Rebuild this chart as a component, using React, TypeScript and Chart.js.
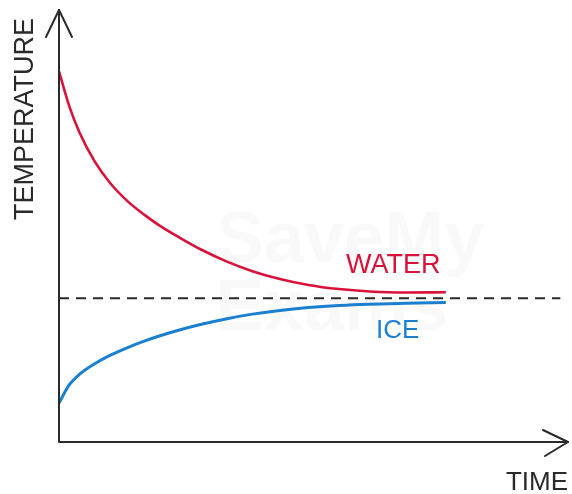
import React, { useEffect, useRef } from "react";
import { Chart, registerables } from "chart.js";

Chart.register(...registerables);

// ---- data ----
const timeValues = [0, 2, 4, 7, 10, 13.5, 17, 20, 24, 28, 33, 38, 43, 49, 55, 61, 68, 76];
const waterTemps = [85.8, 77.8, 71.7, 64.95, 60.0, 55.7, 52.4, 49.9, 47.1, 44.5, 41.75, 39.55, 37.85, 36.35, 35.4, 34.85, 34.6, 34.65];
const iceTemps = [9.0, 13.2, 15.65, 18.1, 20.05, 21.87, 23.45, 24.65, 26.05, 27.25, 28.55, 29.6, 30.4, 31.12, 31.6, 31.9, 32.1, 32.27];
const equilibriumTemp = 33.3;
const equilibriumEnd = 98.5;
const xTitle = "TIME";
const yTitle = "TEMPERATURE";
const seriesNames = ["WATER", "ICE"];
const watermark = ["SaveMy", "Exams"];

const RED = "#d9123a";
const BLUE = "#1b7fcf";
const INK = "#2a2a2a";
const FONT = "'Liberation Sans', Arial, sans-serif";

const sketchPlugin = {
  id: "sketch",
  beforeDatasetsDraw(chart: any) {
    const { ctx, scales } = chart;
    const xs = scales.x;
    const ys = scales.y;
    ctx.save();
    // faint watermark
    ctx.fillStyle = "rgba(0,0,0,0.025)";
    ctx.font = `bold 72px ${FONT}`;
    ctx.textBaseline = "alphabetic";
    ctx.textAlign = "left";
    ctx.fillText(watermark[0], 216, 262);
    ctx.fillText(watermark[1], 216, 330);
    ctx.restore();

    const yPix = ys.getPixelForValue(equilibriumTemp);
    ctx.save();
    ctx.setLineDash([10, 7]);
    ctx.lineWidth = 2;
    ctx.strokeStyle = INK;
    ctx.beginPath();
    ctx.moveTo(xs.getPixelForValue(0), yPix);
    ctx.lineTo(xs.getPixelForValue(equilibriumEnd), yPix);
    ctx.stroke();
    ctx.restore();
  },
  afterDatasetsDraw(chart: any) {
    const { ctx, chartArea } = chart;
    const { left, right, top, bottom } = chartArea;
    ctx.save();
    ctx.strokeStyle = INK;
    ctx.lineWidth = 2;
    ctx.lineCap = "round";
    ctx.lineJoin = "round";
    // axes
    ctx.beginPath();
    ctx.moveTo(left, top);
    ctx.lineTo(left, bottom);
    ctx.lineTo(right, bottom);
    ctx.stroke();
    // arrow heads
    ctx.beginPath();
    ctx.moveTo(left - 13, top + 27);
    ctx.lineTo(left, top);
    ctx.lineTo(left + 13, top + 27);
    ctx.moveTo(right - 25, bottom - 12);
    ctx.lineTo(right, bottom);
    ctx.lineTo(right - 23, bottom + 14);
    ctx.stroke();

    // texts
    ctx.fillStyle = INK;
    ctx.font = `26px ${FONT}`;
    ctx.textAlign = "right";
    ctx.textBaseline = "alphabetic";
    ctx.fillText(xTitle, right, bottom + 48);

    ctx.save();
    ctx.translate(33, 119);
    ctx.rotate(-Math.PI / 2);
    ctx.textAlign = "center";
    ctx.font = `27px ${FONT}`;
    ctx.fillText(yTitle, 0, 0);
    ctx.restore();

    ctx.textAlign = "left";
    ctx.fillStyle = RED;
    ctx.font = `27px ${FONT}`;
    ctx.fillText(seriesNames[0], 346, 273);
    ctx.fillStyle = BLUE;
    ctx.font = `26px ${FONT}`;
    ctx.fillText(seriesNames[1], 376, 338);
    ctx.restore();
  },
};

export default function App() {
  const canvasRef = useRef<HTMLCanvasElement | null>(null);

  useEffect(() => {
    if (!canvasRef.current) return;
    const chart = new Chart(canvasRef.current, {
      type: "line",
      data: {
        datasets: [
          {
            label: seriesNames[0],
            data: timeValues.map((t, i) => ({ x: t, y: waterTemps[i] })),
            borderColor: RED,
            borderWidth: 2.6,
            pointRadius: 0,
            cubicInterpolationMode: "monotone",
            clip: false as any,
            fill: false,
          },
          {
            label: seriesNames[1],
            data: timeValues.map((t, i) => ({ x: t, y: iceTemps[i] })),
            borderColor: BLUE,
            borderWidth: 3,
            pointRadius: 0,
            cubicInterpolationMode: "monotone",
            clip: false as any,
            fill: false,
          },
        ],
      },
      options: {
        animation: false,
        responsive: false,
        maintainAspectRatio: false,
        layout: { padding: { left: 59, right: 4, top: 10, bottom: 52 } },
        plugins: { legend: { display: false }, tooltip: { enabled: false } },
        scales: {
          x: { type: "linear", min: 0, max: 100, display: false },
          y: { type: "linear", min: 0, max: 100, display: false },
        },
      },
      plugins: [sketchPlugin],
    });
    return () => chart.destroy();
  }, []);

  return (
    <div style={{ position: "fixed", left: 0, top: 0, width: 572, height: 494, background: "#fff" }}>
      <canvas ref={canvasRef} width={572} height={494} style={{ width: 572, height: 494, display: "block" }} />
    </div>
  );
}
